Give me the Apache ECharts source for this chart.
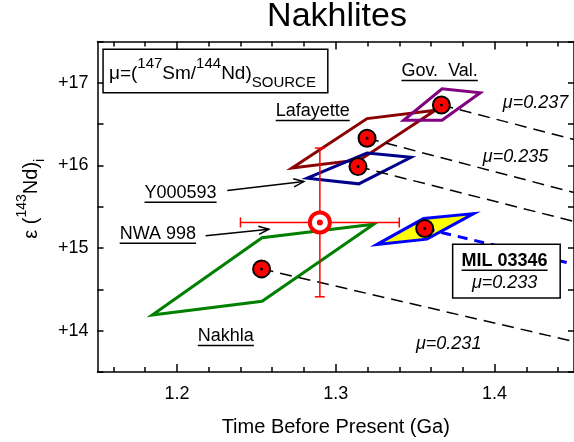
<!DOCTYPE html>
<html><head><meta charset="utf-8">
<script src="https://cdn.jsdelivr.net/npm/echarts@6/dist/echarts.min.js"></script>
<style>html,body{margin:0;padding:0;background:#fff}#c{width:574px;height:442px}</style>
</head><body><div id="c"></div>
<script>
const FONT = '"Liberation Sans", Arial, Helvetica, sans-serif';

// ---- axes ----
const xMin = 1.15, xMax = 1.45;
const yMin = 13.5, yMax = 17.5;
const xMajorTicks = [1.2, 1.3, 1.4];
const xMinorTicks = [1.16, 1.18, 1.22, 1.24, 1.26, 1.28, 1.32, 1.34, 1.36, 1.38, 1.42, 1.44];
const yLabelValues = [14, 15, 16, 17];
const yTickLabels = ['+14', '+15', '+16', '+17'];

// ---- meteorite points (age Ga, epsilon Nd) ----
const meteorites = ['Nakhla', 'Y000593', 'Lafayette', 'Gov. Val.', 'MIL 03346'];
const pointAge = [1.2533, 1.314, 1.3197, 1.3665, 1.356];
const pointEps = [14.748, 15.986, 16.33, 16.731, 15.237];

// ---- uncertainty parallelograms (age, epsilon) ----
const nakhlaBox    = [[1.1845, 14.19], [1.2536, 15.125], [1.3239, 15.288], [1.2536, 14.356]];
const y000593Box   = [[1.282, 15.846], [1.3197, 16.150], [1.3474, 16.099], [1.3145, 15.777]];
const lafayetteBox = [[1.2725, 15.970], [1.3197, 16.567], [1.3627, 16.667], [1.3155, 16.070]];
const govValBox    = [[1.3428, 16.547], [1.3669, 16.928], [1.391, 16.880], [1.3669, 16.547]];
const milBox       = [[1.326, 15.044], [1.3553, 15.357], [1.3868, 15.417], [1.3574, 15.108]];

// ---- NWA 998 ----
const nwaAge = 1.29, nwaEps = 15.31, nwaAgeErr = 0.05, nwaEpsErr = 0.9;

// ---- source evolution lines (end at 1.45 Ga) ----
const evoEndAge = 1.45;
const evoEndEps = [13.869, 15.322, 15.672, 16.314, 14.804]; // same order as meteorites
const muValues = ['μ=0.237', 'μ=0.235', 'μ=0.231', 'μ=0.233'];
const sampleLabels = ['Gov.  Val.', 'Lafayette', 'Y000593', 'NWA 998', 'Nakhla'];

const mctx = document.createElement('canvas').getContext('2d');
function tw(txt, font) { mctx.font = font; return mctx.measureText(txt).width; }

const chart = echarts.init(document.getElementById('c'), null, {renderer: 'canvas'});

function polySeries(box, stroke, fill, width) {
  return {
    type: 'custom', coordinateSystem: 'cartesian2d', z: 2,
    data: [[xMin, yMin]],
    renderItem: (p, api) => ({
      type: 'polygon',
      shape: {points: box.map(v => api.coord(v))},
      style: {fill: fill || 'none', stroke: stroke, lineWidth: width, lineJoin: 'miter'}
    })
  };
}

const evoSeries = [];
for (let i = 0; i < pointAge.length; i++) {
  const blue = i === 4;
  evoSeries.push({
    type: 'line', z: 3, symbol: 'none', silent: true,
    data: [[pointAge[i], pointEps[i]], [evoEndAge, evoEndEps[i]]],
    lineStyle: blue ? {color: '#0000ff', width: 3, type: [10, 7]} : {color: '#000', width: 1.5, type: [12, 7]}
  });
}

const titleFont = '34px ' + FONT;
const titleW = tw('Nakhlites', titleFont);

const labelFont = '18px ' + FONT;
const italicFont = 'italic 18px ' + FONT;
const boldFont = 'bold 18px ' + FONT;

function underlined(api, txt, pos, font) {
  const c = api.coord(pos);
  const w = tw(txt, font);
  return [
    {type: 'text', x: c[0], y: c[1], style: {text: txt, font: font, fill: '#000', align: 'center', verticalAlign: 'middle'}},
    {type: 'line', shape: {x1: c[0] - w / 2, y1: c[1] + 9.5, x2: c[0] + w / 2, y2: c[1] + 9.5}, style: {stroke: '#000', lineWidth: 1.5}}
  ];
}
function arrow(api, a, b) {
  const p1 = api.coord(a), p2 = api.coord(b);
  const ang = Math.atan2(p2[1] - p1[1], p2[0] - p1[0]);
  const L = 11, h = 0.38;
  const q1 = [p2[0] - L * Math.cos(ang - h), p2[1] - L * Math.sin(ang - h)];
  const q2 = [p2[0] - L * Math.cos(ang + h), p2[1] - L * Math.sin(ang + h)];
  return [
    {type: 'line', shape: {x1: p1[0], y1: p1[1], x2: p2[0], y2: p2[1]}, style: {stroke: '#000', lineWidth: 1.5}},
    {type: 'polyline', shape: {points: [q1, p2, q2]}, style: {stroke: '#000', lineWidth: 1.5, fill: 'none'}}
  ];
}

const option = {
  animation: false,
  backgroundColor: '#fff',
  title: {
    text: 'Nakhlites', left: 337 - titleW / 2, top: 0, padding: 0,
    textStyle: {fontFamily: FONT, fontSize: 34, fontWeight: 'normal', color: '#000'}
  },
  grid: {left: 97.5, top: 41.5, right: -1.5, bottom: 67, containLabel: false},
  xAxis: [
    {type: 'value', min: xMin, max: xMax, position: 'bottom',
     axisLine: {show: true, onZero: false, lineStyle: {color: '#000', width: 1.5}},
     axisTick: {show: true, inside: true, length: 8, customValues: xMajorTicks, lineStyle: {color: '#000', width: 1.5}},
     axisLabel: {customValues: xMajorTicks, formatter: v => v.toFixed(1), fontFamily: FONT, fontSize: 18, color: '#000', margin: 13},
     splitLine: {show: false},
     name: 'Time Before Present (Ga)', nameLocation: 'middle', nameGap: 45,
     nameTextStyle: {fontFamily: FONT, fontSize: 20, color: '#000'}},
    {type: 'value', min: xMin, max: xMax, position: 'bottom',
     axisLine: {show: false}, axisLabel: {show: false}, splitLine: {show: false},
     axisTick: {show: true, inside: true, length: 5, customValues: xMinorTicks, lineStyle: {color: '#000', width: 1.5}}},
    {type: 'value', min: xMin, max: xMax, position: 'top',
     axisLine: {show: true, onZero: false, lineStyle: {color: '#000', width: 1.5}}, axisLabel: {show: false}, splitLine: {show: false},
     axisTick: {show: true, inside: true, length: 8, customValues: xMajorTicks, lineStyle: {color: '#000', width: 1.5}}},
    {type: 'value', min: xMin, max: xMax, position: 'top',
     axisLine: {show: false}, axisLabel: {show: false}, splitLine: {show: false},
     axisTick: {show: true, inside: true, length: 5, customValues: xMinorTicks, lineStyle: {color: '#000', width: 1.5}}}
  ],
  yAxis: [
    {type: 'value', min: yMin, max: yMax, interval: 0.5, position: 'left',
     axisLine: {show: true, onZero: false, lineStyle: {color: '#000', width: 1.5}},
     axisTick: {show: true, inside: true, length: 6, lineStyle: {color: '#000', width: 1.5}},
     axisLabel: {customValues: yLabelValues, formatter: v => yTickLabels[yLabelValues.indexOf(Math.round(v))] || '',
                 fontFamily: FONT, fontSize: 18, color: '#000', margin: 9},
     splitLine: {show: false},
     name: '{n|ε (}{sup|143}{n|Nd)}{sub|i}', nameLocation: 'middle', nameGap: 48, nameRotate: 90,
     nameTextStyle: {fontFamily: FONT, fontSize: 20, color: '#000', padding: [0, 0, 0, 16],
       rich: {
         n: {fontFamily: FONT, fontSize: 20, lineHeight: 32, color: '#000'},
         sup: {fontFamily: FONT, fontSize: 14, lineHeight: 14, verticalAlign: 'top', color: '#000'},
         sub: {fontFamily: FONT, fontSize: 14, lineHeight: 14, verticalAlign: 'bottom', color: '#000'}
       }}},
    {type: 'value', min: yMin, max: yMax, interval: 0.5, position: 'right',
     axisLine: {show: true, onZero: false, lineStyle: {color: '#000', width: 1.5}},
     axisTick: {show: true, inside: true, length: 6, lineStyle: {color: '#000', width: 1.5}},
     axisLabel: {show: false}, splitLine: {show: false}}
  ],
  series: [
    polySeries(nakhlaBox, '#008000', null, 3),
    polySeries(lafayetteBox, '#8b0000', null, 3),
    polySeries(y000593Box, '#00008b', null, 3),
    polySeries(govValBox, '#800080', null, 3),
    polySeries(milBox, '#0000ff', '#ffff00', 3),
    ...evoSeries,
    // NWA 998 error bars
    {type: 'custom', coordinateSystem: 'cartesian2d', z: 4, data: [[nwaAge, nwaEps]],
     renderItem: (p, api) => {
       const l = api.coord([nwaAge - nwaAgeErr, nwaEps]), r = api.coord([nwaAge + nwaAgeErr, nwaEps]);
       const t = api.coord([nwaAge, nwaEps + nwaEpsErr]), b = api.coord([nwaAge, nwaEps - nwaEpsErr]);
       const st = {stroke: '#ff0000', lineWidth: 1.5};
       const cap = 5;
       return {type: 'group', children: [
         {type: 'line', shape: {x1: l[0], y1: l[1], x2: r[0], y2: r[1]}, style: st},
         {type: 'line', shape: {x1: t[0], y1: t[1], x2: b[0], y2: b[1]}, style: st},
         {type: 'line', shape: {x1: l[0], y1: l[1] - cap, x2: l[0], y2: l[1] + cap}, style: st},
         {type: 'line', shape: {x1: r[0], y1: r[1] - cap, x2: r[0], y2: r[1] + cap}, style: st},
         {type: 'line', shape: {x1: t[0] - cap, y1: t[1], x2: t[0] + cap, y2: t[1]}, style: st},
         {type: 'line', shape: {x1: b[0] - cap, y1: b[1], x2: b[0] + cap, y2: b[1]}, style: st}
       ]};
     }},
    // NWA 998 marker
    {type: 'scatter', z: 5, symbol: 'circle', symbolSize: 20, data: [[nwaAge, nwaEps]],
     itemStyle: {color: '#fff', borderColor: '#ff0000', borderWidth: 4, opacity: 1}},
    {type: 'scatter', z: 6, symbol: 'circle', symbolSize: 6, data: [[nwaAge, nwaEps]],
     itemStyle: {color: '#ff0000', opacity: 1}},
    // meteorite points
    {type: 'scatter', z: 5, symbol: 'circle', symbolSize: 17,
     data: pointAge.map((a, i) => [a, pointEps[i]]),
     itemStyle: {color: '#ff0000', borderColor: '#000', borderWidth: 2, opacity: 1}},
    {type: 'scatter', z: 6, symbol: 'circle', symbolSize: 3,
     data: pointAge.map((a, i) => [a, pointEps[i]]),
     itemStyle: {color: '#000', opacity: 1}},
    // annotations
    {type: 'custom', coordinateSystem: 'cartesian2d', z: 10, data: [[xMin, yMin]],
     renderItem: (p, api) => {
       const ch = [];
       const annPos = [[1.3654, 17.142], [1.2855, 16.66], [1.2023, 15.669], [1.188, 15.172], [1.2308, 13.936]];
       sampleLabels.forEach((s, i) => ch.push(...underlined(api, s, annPos[i], labelFont)));
       ch.push(...arrow(api, [1.2317, 15.697], [1.2799, 15.805]));
       ch.push(...arrow(api, [1.2181, 15.149], [1.2579, 15.228]));
       const muPos = [[1.4258, 16.751], [1.4132, 16.102], [1.3711, 13.843]];
       for (let i = 0; i < 3; i++) {
         const c = api.coord(muPos[i]);
         ch.push({type: 'text', x: c[0], y: c[1], style: {text: muValues[i], font: italicFont, fill: '#000', align: 'center', verticalAlign: 'middle'}});
       }
       // MIL box
       const b1 = api.coord([1.3736, 15.045]), b2 = api.coord([1.4413, 14.395]);
       ch.push({type: 'rect', shape: {x: b1[0], y: b1[1], width: b2[0] - b1[0], height: b2[1] - b1[1]},
                style: {fill: '#fff', stroke: '#000', lineWidth: 1.5}});
       ch.push(...underlined(api, meteorites[4], [1.4063, 14.846], boldFont));
       const mc = api.coord([1.4063, 14.582]);
       ch.push({type: 'text', x: mc[0], y: mc[1], style: {text: muValues[3], font: italicFont, fill: '#000', align: 'center', verticalAlign: 'middle'}});
       // legend box
       const l1 = api.coord([1.1535, 17.406]), l2 = api.coord([1.295, 16.88]);
       ch.push({type: 'rect', shape: {x: l1[0], y: l1[1], width: l2[0] - l1[0], height: l2[1] - l1[1]},
                style: {fill: '#fff', stroke: '#000', lineWidth: 1.5}});
       const lc = api.coord([1.1572, 17.112]);
       ch.push({type: 'text', x: lc[0], y: lc[1], style: {
         text: '{n|μ=(}{sup|147}{n|Sm/}{sup|144}{n|Nd)}{sub|SOURCE}',
         align: 'left', verticalAlign: 'middle', fill: '#000',
         rich: {
           n: {fontFamily: FONT, fontSize: 19, lineHeight: 34, fill: '#000'},
           sup: {fontFamily: FONT, fontSize: 15, lineHeight: 15, verticalAlign: 'top', fill: '#000'},
           sub: {fontFamily: FONT, fontSize: 15, lineHeight: 15, verticalAlign: 'bottom', fill: '#000'}
         }}});
       return {type: 'group', children: ch};
     }}
  ]
};
chart.setOption(option);
</script>
</body></html>
